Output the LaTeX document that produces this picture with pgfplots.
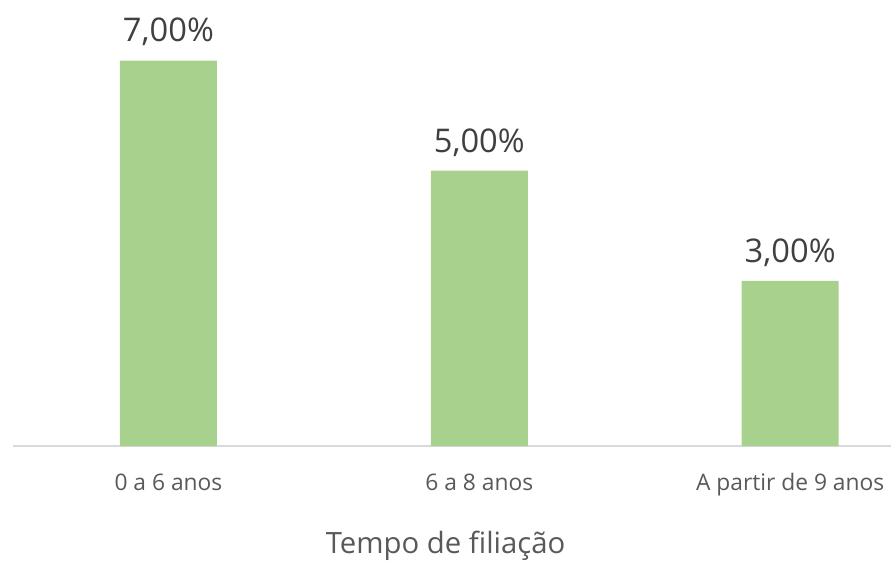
\documentclass[border=0pt]{standalone}
\usepackage{pgfplots}
\pgfplotsset{compat=1.18}
\usepackage{fontspec}
\setmainfont[Ligatures={NoCommon}]{Open Sans}
\definecolor{barfill}{HTML}{A9D18E}
\definecolor{txt}{HTML}{595959}
\definecolor{datatxt}{HTML}{404040}
\definecolor{axisgray}{HTML}{D9D9D9}
\begin{document}
\begin{tikzpicture}
\begin{axis}[
  scale only axis,
  width=659.25pt, height=330.75pt,
  xmin=-0.5, xmax=2.325,
  ymin=0, ymax=8,
  clip=false,
  axis y line=none,
  axis x line*=bottom,
  x axis line style={draw=axisgray, line width=1.2pt, -},
  major tick length=0pt,
  xtick=data,
  xticklabels={0 a 6 anos, 6 a 8 anos, A partir de 9 anos},
  xticklabel style={font=\fontsize{17.1pt}{20pt}\selectfont, text=txt, anchor=base, yshift=-33.4pt},
  xlabel={Tempo de filiação},
  xlabel style={font=\fontsize{22pt}{26pt}\selectfont, text=txt, at={(axis description cs:0.4926,-0.2256)}, anchor=center},
  ybar, bar width=72.75pt,
  nodes near coords={\pgfmathprintnumber[fixed, fixed zerofill, precision=2, use comma, assume math mode=true]{\pgfplotspointmeta}\%},
  nodes near coords style={font=\fontsize{24.5pt}{29pt}\selectfont, text=datatxt, anchor=base, yshift=14pt},
]
\addplot[fill=barfill, draw=none] coordinates {(0,7) (1,5) (2,3)};
\end{axis}
\path[use as bounding box] (-9.75pt,-85.125pt) rectangle (659.25pt,334.875pt);
\end{tikzpicture}
\end{document}
